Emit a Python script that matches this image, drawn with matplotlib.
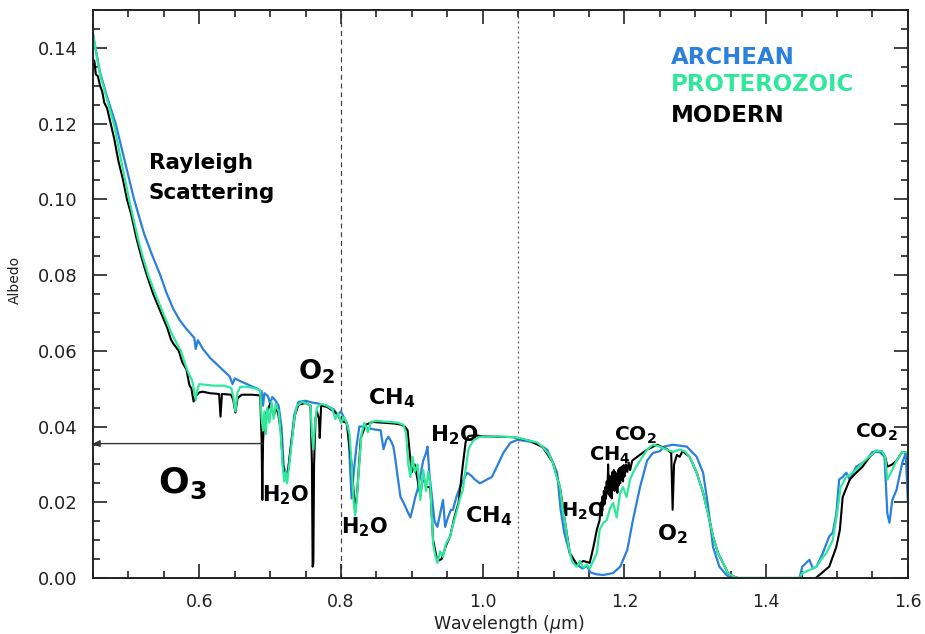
import numpy as np
import matplotlib
matplotlib.use("Agg")
import matplotlib.pyplot as plt
from matplotlib.ticker import MultipleLocator, FormatStrFormatter

# ---- spectra (wavelength in micron, albedo) ----
archean_wl = [
    0.450, 0.455, 0.460, 0.470, 0.482, 0.495, 0.508, 0.515, 0.522, 0.533,
    0.545, 0.554, 0.563, 0.572, 0.580, 0.588, 0.593, 0.595, 0.598, 0.605,
    0.616, 0.630, 0.643, 0.647, 0.650, 0.660, 0.672, 0.682, 0.688, 0.690,
    0.692, 0.697, 0.700, 0.703, 0.707, 0.712, 0.716, 0.719, 0.722, 0.726,
    0.730, 0.734, 0.740, 0.750, 0.760, 0.770, 0.780, 0.790, 0.795, 0.800,
    0.805, 0.810, 0.815, 0.818, 0.822, 0.826, 0.832, 0.840, 0.848, 0.856,
    0.860, 0.864, 0.867, 0.871, 0.874, 0.877, 0.880, 0.884, 0.888, 0.891,
    0.894, 0.898, 0.902, 0.905, 0.908, 0.912, 0.916, 0.920, 0.922, 0.925,
    0.928, 0.932, 0.936, 0.940, 0.944, 0.947, 0.951, 0.955, 0.958, 0.963,
    0.968, 0.973, 0.978, 0.984, 0.989, 0.996, 1.006, 1.013, 1.020, 1.029,
    1.039, 1.049, 1.067, 1.080, 1.091, 1.098, 1.105, 1.110, 1.115, 1.123,
    1.133, 1.141, 1.147, 1.152, 1.160, 1.170, 1.184, 1.194, 1.204, 1.212,
    1.222, 1.232, 1.240, 1.250, 1.256, 1.268, 1.288, 1.302, 1.311, 1.318,
    1.325, 1.334, 1.344, 1.350, 1.447, 1.451, 1.461, 1.466, 1.471, 1.480,
    1.489, 1.494, 1.499, 1.503, 1.508, 1.513, 1.518, 1.527, 1.536, 1.541,
    1.550, 1.560, 1.567, 1.571, 1.574, 1.578, 1.584, 1.592, 1.597, 1.600]
archean_alb = [
    0.1437, 0.1385, 0.1335, 0.1270, 0.1200, 0.1100, 0.1000, 0.0955, 0.0910, 0.0855,
    0.0800, 0.0752, 0.0712, 0.0682, 0.0662, 0.0645, 0.0634, 0.0605, 0.0628, 0.0605,
    0.0580, 0.0555, 0.0532, 0.0512, 0.0527, 0.0518, 0.0508, 0.0500, 0.0493, 0.0455,
    0.0488, 0.0480, 0.0460, 0.0478, 0.0470, 0.0455, 0.0400, 0.0300, 0.0270, 0.0290,
    0.0360, 0.0430, 0.0465, 0.0468, 0.0463, 0.0460, 0.0455, 0.0445, 0.0430, 0.0440,
    0.0420, 0.0400, 0.0210, 0.0280, 0.0350, 0.0400, 0.0400, 0.0395, 0.0392, 0.0390,
    0.0340, 0.0365, 0.0373, 0.0360, 0.0347, 0.0310, 0.0267, 0.0214, 0.0200, 0.0188,
    0.0175, 0.0160, 0.0190, 0.0215, 0.0233, 0.0270, 0.0310, 0.0330, 0.0347, 0.0270,
    0.0220, 0.0150, 0.0135, 0.0170, 0.0206, 0.0135, 0.0160, 0.0180, 0.0180, 0.0215,
    0.0240, 0.0260, 0.0278, 0.0270, 0.0260, 0.0250, 0.0260, 0.0267, 0.0294, 0.0330,
    0.0357, 0.0365, 0.0360, 0.0352, 0.0339, 0.0310, 0.0278, 0.0180, 0.0120, 0.0065,
    0.0035, 0.0025, 0.0032, 0.0015, 0.0010, 0.0008, 0.0013, 0.0030, 0.0074, 0.0153,
    0.0240, 0.0310, 0.0330, 0.0335, 0.0347, 0.0352, 0.0347, 0.0320, 0.0278, 0.0190,
    0.0082, 0.0030, 0.0008, 0.0000, 0.0000, 0.0030, 0.0048, 0.0025, 0.0030, 0.0066,
    0.0110, 0.0120, 0.0170, 0.0260, 0.0267, 0.0278, 0.0260, 0.0294, 0.0304, 0.0310,
    0.0333, 0.0333, 0.0320, 0.0170, 0.0146, 0.0206, 0.0233, 0.0304, 0.0330, 0.0200]

proterozoic_wl = [
    0.450, 0.455, 0.460, 0.470, 0.480, 0.490, 0.501, 0.507, 0.513, 0.520,
    0.528, 0.538, 0.549, 0.560, 0.568, 0.574, 0.580, 0.585, 0.590, 0.593,
    0.595, 0.597, 0.600, 0.610, 0.620, 0.635, 0.645, 0.648, 0.651, 0.654,
    0.658, 0.668, 0.680, 0.686, 0.688, 0.690, 0.692, 0.694, 0.696, 0.699,
    0.702, 0.705, 0.708, 0.712, 0.715, 0.718, 0.720, 0.722, 0.724, 0.727,
    0.730, 0.734, 0.738, 0.745, 0.752, 0.757, 0.759, 0.761, 0.763, 0.766,
    0.772, 0.780, 0.788, 0.792, 0.796, 0.800, 0.804, 0.808, 0.812, 0.815,
    0.818, 0.820, 0.822, 0.825, 0.829, 0.833, 0.838, 0.842, 0.850, 0.860,
    0.870, 0.880, 0.888, 0.892, 0.895, 0.898, 0.901, 0.904, 0.908, 0.912,
    0.916, 0.920, 0.923, 0.926, 0.930, 0.933, 0.936, 0.940, 0.944, 0.948,
    0.954, 0.958, 0.964, 0.968, 0.972, 0.976, 0.980, 0.984, 0.988, 0.996,
    1.010, 1.020, 1.043, 1.055, 1.067, 1.077, 1.085, 1.092, 1.099, 1.104,
    1.109, 1.113, 1.116, 1.119, 1.123, 1.127, 1.133, 1.137, 1.142, 1.147,
    1.151, 1.156, 1.161, 1.165, 1.170, 1.175, 1.180, 1.184, 1.189, 1.194,
    1.198, 1.203, 1.208, 1.212, 1.217, 1.222, 1.232, 1.240, 1.250, 1.260,
    1.268, 1.278, 1.285, 1.292, 1.302, 1.311, 1.318, 1.325, 1.332, 1.339,
    1.346, 1.353, 1.360, 1.447, 1.451, 1.460, 1.471, 1.478, 1.485, 1.494,
    1.500, 1.505, 1.513, 1.520, 1.527, 1.536, 1.545, 1.555, 1.563, 1.568,
    1.571, 1.576, 1.584, 1.592, 1.600]
proterozoic_alb = [
    0.1437, 0.1380, 0.1330, 0.1262, 0.1195, 0.1100, 0.1000, 0.0950, 0.0900, 0.0850,
    0.0800, 0.0750, 0.0700, 0.0650, 0.0620, 0.0600, 0.0565, 0.0540, 0.0522, 0.0490,
    0.0470, 0.0495, 0.0512, 0.0510, 0.0508, 0.0508, 0.0502, 0.0480, 0.0440, 0.0490,
    0.0505, 0.0505, 0.0500, 0.0495, 0.0420, 0.0390, 0.0440, 0.0380, 0.0450, 0.0410,
    0.0465, 0.0420, 0.0460, 0.0440, 0.0380, 0.0290, 0.0255, 0.0280, 0.0250, 0.0300,
    0.0350, 0.0420, 0.0455, 0.0465, 0.0460, 0.0455, 0.0380, 0.0340, 0.0400, 0.0450,
    0.0460, 0.0455, 0.0445, 0.0420, 0.0435, 0.0410, 0.0425, 0.0410, 0.0380, 0.0300,
    0.0200, 0.0165, 0.0200, 0.0280, 0.0380, 0.0410, 0.0385, 0.0412, 0.0415, 0.0413,
    0.0412, 0.0410, 0.0405, 0.0380, 0.0300, 0.0267, 0.0320, 0.0280, 0.0300, 0.0206,
    0.0286, 0.0230, 0.0280, 0.0250, 0.0090, 0.0060, 0.0040, 0.0070, 0.0056, 0.0090,
    0.0110, 0.0140, 0.0180, 0.0210, 0.0233, 0.0290, 0.0340, 0.0355, 0.0365, 0.0373,
    0.0373, 0.0374, 0.0372, 0.0368, 0.0362, 0.0358, 0.0345, 0.0330, 0.0305, 0.0270,
    0.0240, 0.0180, 0.0150, 0.0110, 0.0065, 0.0040, 0.0030, 0.0045, 0.0028, 0.0035,
    0.0025, 0.0045, 0.0066, 0.0127, 0.0145, 0.0153, 0.0185, 0.0198, 0.0160, 0.0225,
    0.0240, 0.0214, 0.0260, 0.0278, 0.0295, 0.0310, 0.0339, 0.0352, 0.0347, 0.0339,
    0.0333, 0.0339, 0.0335, 0.0320, 0.0278, 0.0225, 0.0170, 0.0110, 0.0066, 0.0040,
    0.0013, 0.0005, 0.0000, 0.0000, 0.0013, 0.0020, 0.0030, 0.0050, 0.0066, 0.0100,
    0.0170, 0.0240, 0.0267, 0.0275, 0.0286, 0.0304, 0.0320, 0.0336, 0.0335, 0.0320,
    0.0260, 0.0278, 0.0310, 0.0333, 0.0330]

modern_wl = [
    0.450, 0.452, 0.454, 0.457, 0.460, 0.463, 0.466, 0.470, 0.475, 0.480,
    0.486, 0.492, 0.498, 0.504, 0.511, 0.518, 0.526, 0.535, 0.546, 0.555,
    0.560, 0.563, 0.567, 0.571, 0.576, 0.582, 0.586, 0.589, 0.592, 0.595,
    0.600, 0.605, 0.615, 0.628, 0.630, 0.632, 0.645, 0.648, 0.651, 0.654,
    0.660, 0.675, 0.686, 0.688, 0.689, 0.690, 0.692, 0.696, 0.700, 0.705,
    0.710, 0.715, 0.718, 0.721, 0.725, 0.730, 0.735, 0.740, 0.750, 0.757,
    0.759, 0.760, 0.761, 0.762, 0.764, 0.766, 0.769, 0.770, 0.772, 0.780,
    0.790, 0.796, 0.800, 0.808, 0.815, 0.820, 0.823, 0.828, 0.835, 0.845,
    0.860, 0.875, 0.885, 0.890, 0.894, 0.897, 0.900, 0.904, 0.908, 0.912,
    0.916, 0.920, 0.926, 0.930, 0.936, 0.942, 0.948, 0.954, 0.960, 0.966,
    0.972, 0.976, 0.980, 0.990, 1.000, 1.020, 1.043, 1.067, 1.085, 1.099,
    1.109, 1.116, 1.123, 1.133, 1.142, 1.151, 1.156, 1.161, 1.165, 1.166,
    1.167, 1.168, 1.169, 1.170, 1.171, 1.172, 1.173, 1.174, 1.175, 1.176,
    1.177, 1.178, 1.179, 1.180, 1.181, 1.182, 1.183, 1.184, 1.185, 1.186,
    1.187, 1.188, 1.189, 1.190, 1.191, 1.192, 1.193, 1.194, 1.195, 1.196,
    1.197, 1.198, 1.199, 1.200, 1.202, 1.204, 1.206, 1.208, 1.211, 1.218,
    1.232, 1.246, 1.260, 1.266, 1.268, 1.270, 1.274, 1.278, 1.282, 1.292,
    1.302, 1.311, 1.318, 1.325, 1.332, 1.339, 1.346, 1.353, 1.360, 1.470,
    1.489, 1.499, 1.504, 1.508, 1.518, 1.527, 1.536, 1.546, 1.555, 1.563,
    1.568, 1.571, 1.578, 1.584, 1.592, 1.600]
modern_alb = [
    0.1370, 0.1365, 0.1330, 0.1325, 0.1300, 0.1285, 0.1255, 0.1240, 0.1200, 0.1160,
    0.1100, 0.1055, 0.1000, 0.0960, 0.0900, 0.0850, 0.0800, 0.0750, 0.0700, 0.0660,
    0.0630, 0.0620, 0.0610, 0.0600, 0.0570, 0.0550, 0.0510, 0.0500, 0.0466, 0.0480,
    0.0490, 0.0492, 0.0488, 0.0486, 0.0426, 0.0486, 0.0484, 0.0470, 0.0437, 0.0475,
    0.0484, 0.0484, 0.0482, 0.0365, 0.0206, 0.0360, 0.0430, 0.0440, 0.0460, 0.0430,
    0.0450, 0.0390, 0.0300, 0.0270, 0.0280, 0.0360, 0.0430, 0.0458, 0.0462, 0.0455,
    0.0300, 0.0030, 0.0040, 0.0300, 0.0420, 0.0440, 0.0420, 0.0370, 0.0455, 0.0452,
    0.0440, 0.0430, 0.0415, 0.0410, 0.0300, 0.0175, 0.0230, 0.0370, 0.0405, 0.0412,
    0.0410, 0.0408, 0.0405, 0.0400, 0.0390, 0.0330, 0.0280, 0.0300, 0.0260, 0.0220,
    0.0270, 0.0240, 0.0240, 0.0100, 0.0045, 0.0050, 0.0085, 0.0110, 0.0160, 0.0200,
    0.0300, 0.0360, 0.0375, 0.0377, 0.0374, 0.0373, 0.0372, 0.0362, 0.0345, 0.0305,
    0.0240, 0.0150, 0.0065, 0.0035, 0.0045, 0.0040, 0.0080, 0.0127, 0.0153, 0.0185,
    0.0200, 0.0165, 0.0215, 0.0190, 0.0230, 0.0195, 0.0240, 0.0210, 0.0255, 0.0225,
    0.0300, 0.0220, 0.0270, 0.0215, 0.0265, 0.0210, 0.0280, 0.0235, 0.0285, 0.0230,
    0.0280, 0.0240, 0.0275, 0.0225, 0.0285, 0.0245, 0.0290, 0.0250, 0.0292, 0.0260,
    0.0295, 0.0255, 0.0298, 0.0268, 0.0300, 0.0280, 0.0305, 0.0285, 0.0310, 0.0320,
    0.0339, 0.0352, 0.0340, 0.0330, 0.0180, 0.0300, 0.0325, 0.0320, 0.0335, 0.0320,
    0.0278, 0.0225, 0.0170, 0.0110, 0.0066, 0.0040, 0.0013, 0.0005, 0.0000, 0.0000,
    0.0030, 0.0082, 0.0127, 0.0214, 0.0260, 0.0278, 0.0294, 0.0320, 0.0336, 0.0335,
    0.0320, 0.0294, 0.0300, 0.0310, 0.0333, 0.0330]

series_names = ["ARCHEAN", "PROTEROZOIC", "MODERN"]
series_colors = ["#2a80dc", "#30e89c", "black"]

fig = plt.figure(figsize=(9.25, 6.34), dpi=100)
ax = fig.add_axes([0.1005, 0.0883, 0.881, 0.896])

# spectra
ax.plot(archean_wl, archean_alb, color=series_colors[0], lw=1.6, zorder=2)
ax.plot(modern_wl, modern_alb, color=series_colors[2], lw=1.5, zorder=2.1)
ax.plot(proterozoic_wl, proterozoic_alb, color=series_colors[1], lw=1.6, zorder=2.2)

# reference lines
ax.axvline(0.8, color="#444444", lw=0.9, ls=(0, (4, 3)), zorder=1)
ax.axvline(1.05, color="#555555", lw=0.9, ls=(0, (1.5, 2.5)), zorder=1)
ax.annotate("", xy=(0.45, 0.0355), xytext=(0.69, 0.0355),
            arrowprops=dict(arrowstyle="-|>", color="#333333", lw=1.0,
                            mutation_scale=10, shrinkA=0, shrinkB=0))

# molecule labels
kw = dict(fontweight="bold", color="black", zorder=1.5)
ax.text(0.529, 0.108, "Rayleigh", fontsize=15.5, **kw)
ax.text(0.529, 0.100, "Scattering", fontsize=15.5, **kw)
ax.text(0.740, 0.0524, r"O$_\mathbf{2}$", fontsize=19.5, **kw)
ax.text(0.542, 0.0225, r"O$_\mathbf{3}$", fontsize=26, **kw)
ax.text(0.838, 0.0458, r"CH$_\mathbf{4}$", fontsize=16, **kw)
ax.text(0.926, 0.0360, r"H$_\mathbf{2}$O", fontsize=15.5, **kw)
ax.text(0.689, 0.0201, r"H$_\mathbf{2}$O", fontsize=15, **kw)
ax.text(0.800, 0.0119, r"H$_\mathbf{2}$O", fontsize=15, **kw)
ax.text(0.975, 0.0146, r"CH$_\mathbf{4}$", fontsize=16, **kw)
ax.text(1.110, 0.0161, r"H$_\mathbf{2}$O", fontsize=14, **kw)
ax.text(1.150, 0.0310, r"CH$_\mathbf{4}$", fontsize=14, **kw)
ax.text(1.185, 0.0363, r"CO$_\mathbf{2}$", fontsize=14.5, **kw)
ax.text(1.246, 0.0100, r"O$_\mathbf{2}$", fontsize=16, **kw)
ax.text(1.525, 0.0370, r"CO$_\mathbf{2}$", fontsize=14.5, **kw)

# legend as coloured words
for name, col, yy in zip(series_names, series_colors, [0.1357, 0.1286, 0.1204]):
    ax.text(1.266, yy, name, fontsize=16.5, fontweight="bold", color=col)

ax.set_xlim(0.45, 1.6)
ax.set_ylim(0.0, 0.15)
ax.xaxis.set_major_locator(MultipleLocator(0.2))
ax.xaxis.set_minor_locator(MultipleLocator(0.05))
ax.yaxis.set_major_locator(MultipleLocator(0.02))
ax.yaxis.set_minor_locator(MultipleLocator(0.005))
ax.xaxis.set_major_formatter(FormatStrFormatter("%.1f"))
ax.yaxis.set_major_formatter(FormatStrFormatter("%.2f"))
ax.tick_params(which="both", direction="in", top=True, right=True,
               width=1.2, colors="#222222")
ax.tick_params(axis="x", labelsize=12.5, pad=11)
ax.tick_params(axis="y", labelsize=13, pad=11)
ax.tick_params(which="major", length=10)
ax.tick_params(which="minor", length=5)
for sp in ax.spines.values():
    sp.set_linewidth(1.4)
    sp.set_color("#222222")

ax.set_xlabel(r"Wavelength ($\mu$m)", fontsize=12.5, color="#222222")
ax.xaxis.set_label_coords(0.51, -0.062)
ax.set_ylabel("Albedo", fontsize=10, color="#222222")
ax.yaxis.set_label_coords(-0.087, 0.525)

fig.savefig("out.png", dpi=100)
